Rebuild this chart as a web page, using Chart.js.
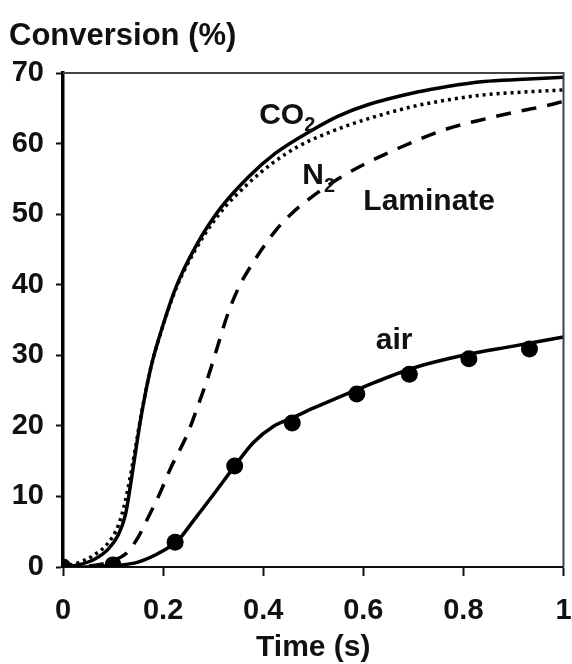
<!DOCTYPE html>
<html>
<head>
<meta charset="utf-8">
<script src="https://cdn.jsdelivr.net/npm/chart.js@4.4.1/dist/chart.umd.min.js"></script>
<style>
html,body{margin:0;padding:0;background:#fff;}
#wrap{width:572px;height:664px;position:relative;}
</style>
</head>
<body>
<div id="wrap"><canvas id="c" width="572" height="664"></canvas></div>
<script>
// ---- data ----
const xTickLabels = ["0","0.2","0.4","0.6","0.8","1"];
const yTickLabels = ["0","10","20","30","40","50","60","70"];

const co2T = [0,0.03,0.06,0.09,0.11,0.125,0.14,0.156,0.176,0.199,0.226,0.265,0.312,0.371,0.424,0.5,0.55,0.609,0.708,0.768,0.841,0.92,1.0];
const co2V = [0,0.3,1.0,2.5,4.5,7.5,14.0,21.3,28.4,34.1,39.7,45.4,50.6,55.3,58.6,62.0,63.9,65.5,67.3,68.1,68.8,69.1,69.4];

const n2T = [0,0.03,0.06,0.09,0.11,0.125,0.14,0.156,0.176,0.199,0.226,0.265,0.312,0.371,0.42,0.47,0.536,0.6,0.702,0.77,0.841,0.92,1.0];
const n2V = [0,0.6,1.6,3.4,5.8,9.5,15.0,21.5,28.4,34.0,39.5,45.0,50.0,54.4,57.3,59.6,61.7,63.3,65.3,66.2,66.9,67.3,67.6];

const lamT = [0,0.06,0.1,0.126,0.15,0.17,0.192,0.215,0.249,0.269,0.292,0.312,0.328,0.351,0.384,0.424,0.457,0.5,0.55,0.6,0.669,0.768,0.85,0.9,0.98,1.0];
const lamV = [0,0.2,0.9,1.9,4.2,7.0,10.2,14.0,18.9,22.7,27.4,32.0,35.6,39.6,43.6,47.6,50.1,52.6,55.0,57.0,59.3,62.1,63.6,64.4,65.6,66.0];

const airLineT = [0,0.05,0.1,0.15,0.2,0.23,0.26,0.3,0.343,0.38,0.42,0.46,0.5,0.6,0.7,0.8,0.9,1.0];
const airLineV = [0,0,0.2,0.7,2.3,3.8,6.5,10.2,14.3,17.6,19.9,21.2,22.5,25.5,28.2,30.0,31.3,32.6];

const airPtT = [0,0.1,0.224,0.343,0.458,0.587,0.692,0.811,0.932];
const airPtV = [0,0.3,3.5,14.3,20.4,24.5,27.3,29.5,30.9];

const zip = (t,v) => t.map((x,i)=>({x:x,y:v[i]}));
const FONT = '"Liberation Sans", Arial, Helvetica, sans-serif';

// annotation labels (anchor in data units)
const curveLabels = [
  {x:0.392, y:64.0, main:"CO", sub:"2"},
  {x:0.478, y:55.4, main:"N", sub:"2"},
  {x:0.600, y:51.8, main:"Laminate", sub:""},
  {x:0.625, y:32.1, main:"air", sub:""}
];

const overlay = {
  id:'overlay',
  afterDraw(chart){
    const ctx = chart.ctx, a = chart.chartArea;
    const xs = chart.scales.x, ys = chart.scales.y;
    ctx.save();
    // top & right frame
    ctx.strokeStyle = '#444';
    ctx.lineWidth = 2;
    ctx.beginPath();
    ctx.moveTo(a.left, a.top); ctx.lineTo(a.right, a.top); ctx.lineTo(a.right, a.bottom);
    ctx.stroke();
    // y-axis title
    ctx.fillStyle = '#111';
    ctx.font = 'bold 31px ' + FONT;
    ctx.textBaseline = 'middle';
    ctx.textAlign = 'left';
    ctx.fillText('Conversion (%)', 9, 36);
    // curve labels
    curveLabels.forEach(l => {
      const px = xs.getPixelForValue(l.x), py = ys.getPixelForValue(l.y);
      ctx.font = 'bold 30px ' + FONT;
      ctx.textBaseline = 'middle';
      ctx.textAlign = 'left';
      ctx.fillText(l.main, px, py);
      if (l.sub) {
        const w = ctx.measureText(l.main).width;
        ctx.font = 'bold 20px ' + FONT;
        ctx.fillText(l.sub, px + w, py + 10);
      }
    });
    ctx.restore();
  }
};

const lineDefaults = {showLine:true, borderColor:'#000', borderWidth:3.5, pointRadius:0, cubicInterpolationMode:'monotone', fill:false};

new Chart(document.getElementById('c'), {
  type: 'scatter',
  data: {
    datasets: [
      Object.assign({label:'CO2', data: zip(co2T,co2V)}, lineDefaults),
      Object.assign({label:'N2', data: zip(n2T,n2V), borderDash:[3,4]}, lineDefaults),
      Object.assign({label:'Laminate', data: zip(lamT,lamV), borderDash:[15,11]}, lineDefaults),
      Object.assign({label:'air', data: zip(airLineT,airLineV)}, lineDefaults),
      {label:'air data', data: zip(airPtT,airPtV), showLine:false, pointRadius:8.5, pointBackgroundColor:'#000', pointBorderColor:'#000', pointBorderWidth:0}
    ]
  },
  options: {
    responsive:false,
    animation:false,
    devicePixelRatio:1,
    layout:{padding:{left:0, right:5, top:73, bottom:0}},
    plugins:{legend:{display:false}, tooltip:{enabled:false}},
    scales:{
      x:{
        type:'linear', min:0, max:1,
        afterFit(s){ s.height = 97; s.paddingLeft = 0; s.paddingRight = 0; },
        afterBuildTicks(s){ s.ticks = xTickLabels.map(v=>({value:parseFloat(v)})); },
        ticks:{ color:'#111', font:{family:FONT, size:29, weight:'bold'}, padding:18,
          callback:(v,i)=>xTickLabels[i] },
        grid:{ drawOnChartArea:false, drawTicks:true, tickLength:9, tickColor:'#111', tickWidth:2 },
        border:{ display:true, color:'#111', width:2 },
        title:{ display:true, text:'Time (s)', color:'#111', font:{family:FONT, size:30, weight:'bold', lineHeight:1}, padding:{top:0,bottom:1} }
      },
      y:{
        type:'linear', min:0, max:70,
        afterFit(s){ s.width = 63; },
        afterBuildTicks(s){ s.ticks = yTickLabels.map(v=>({value:parseFloat(v)})); },
        ticks:{ color:'#111', font:{family:FONT, size:29, weight:'bold'}, padding:12,
          callback:(v,i)=>yTickLabels[i] },
        grid:{ drawOnChartArea:false, drawTicks:true, tickLength:7, tickColor:'#111', tickWidth:2 },
        border:{ display:true, color:'#000', width:3.5 }
      }
    }
  },
  plugins:[overlay]
});
</script>
</body>
</html>
